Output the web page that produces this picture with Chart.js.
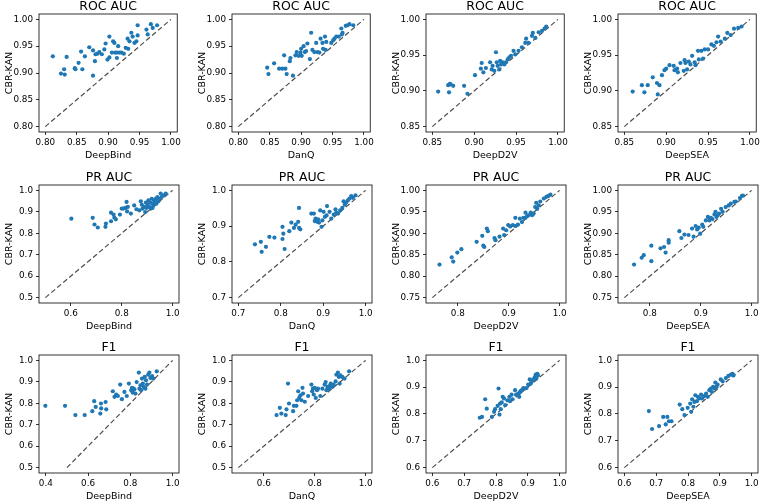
<!DOCTYPE html>
<html>
<head>
<meta charset="utf-8">
<script src="https://cdn.jsdelivr.net/npm/chart.js@4/dist/chart.umd.min.js"></script>
<style>
  html, body { margin: 0; padding: 0; background: #fff; overflow: hidden; }
  #wrap { position: relative; width: 763px; height: 502px; }
  canvas { position: absolute; }
</style>
</head>
<body>
<div id="wrap"></div>
<script>
// CBR-KAN (y) vs. baseline (x), one point per dataset

// ROC AUC
const rocDeepBindX = [0.812,0.825,0.830,0.831,0.834,0.847,0.848,0.853,0.857,0.859,0.863,0.870,0.876,0.876,0.879,0.880,0.883,0.886,0.890,0.894,0.896,0.899,0.902,0.902,0.906,0.908,0.910,0.911,0.914,0.914,0.916,0.918,0.921,0.925,0.928,0.931,0.932,0.934,0.937,0.939,0.942,0.945,0.947,0.947,0.961,0.963,0.968,0.971,0.978];
const rocDeepBindY = [0.931,0.899,0.907,0.897,0.930,0.909,0.907,0.919,0.940,0.907,0.931,0.948,0.942,0.895,0.922,0.935,0.936,0.939,0.935,0.944,0.955,0.925,0.968,0.929,0.938,0.959,0.956,0.938,0.938,0.928,0.950,0.938,0.938,0.936,0.947,0.964,0.945,0.959,0.975,0.968,0.956,0.959,0.970,0.989,0.981,0.972,0.991,0.984,0.989];

const rocDanQX = [0.846,0.848,0.857,0.865,0.870,0.875,0.873,0.877,0.882,0.883,0.887,0.891,0.893,0.896,0.899,0.900,0.901,0.904,0.906,0.908,0.910,0.914,0.916,0.918,0.921,0.924,0.926,0.929,0.931,0.934,0.935,0.938,0.939,0.940,0.948,0.951,0.953,0.956,0.960,0.964,0.965,0.966,0.971,0.974,0.977,0.983];
const rocDanQY = [0.910,0.898,0.918,0.908,0.908,0.908,0.933,0.898,0.922,0.928,0.895,0.933,0.939,0.932,0.938,0.945,0.932,0.950,0.939,0.941,0.955,0.926,0.975,0.943,0.939,0.956,0.939,0.938,0.964,0.956,0.945,0.968,0.943,0.958,0.956,0.961,0.964,0.968,0.968,0.983,0.972,0.975,0.988,0.989,0.991,0.989];

const rocDeepD2VX = [0.857,0.869,0.870,0.871,0.872,0.875,0.888,0.892,0.901,0.908,0.909,0.911,0.914,0.919,0.921,0.922,0.924,0.926,0.927,0.928,0.930,0.931,0.932,0.934,0.936,0.938,0.940,0.942,0.944,0.947,0.949,0.953,0.957,0.961,0.962,0.965,0.969,0.970,0.973,0.977,0.981,0.984,0.986];
const rocDeepD2VY = [0.899,0.908,0.898,0.910,0.909,0.907,0.907,0.896,0.922,0.931,0.939,0.926,0.932,0.940,0.930,0.935,0.928,0.954,0.940,0.935,0.930,0.942,0.937,0.940,0.937,0.940,0.944,0.947,0.949,0.956,0.951,0.956,0.961,0.967,0.973,0.967,0.977,0.981,0.974,0.982,0.984,0.987,0.990];

const rocDeepSEAX = [0.860,0.871,0.874,0.878,0.884,0.889,0.890,0.892,0.895,0.898,0.900,0.904,0.909,0.910,0.913,0.914,0.917,0.921,0.922,0.923,0.925,0.927,0.929,0.931,0.934,0.935,0.938,0.939,0.942,0.944,0.946,0.950,0.954,0.957,0.960,0.962,0.965,0.970,0.973,0.977,0.981,0.986,0.990];
const rocDeepSEAY = [0.899,0.908,0.898,0.908,0.919,0.911,0.895,0.908,0.922,0.929,0.931,0.936,0.935,0.929,0.931,0.926,0.939,0.928,0.943,0.939,0.930,0.941,0.937,0.949,0.940,0.936,0.956,0.944,0.956,0.945,0.958,0.958,0.965,0.963,0.968,0.976,0.969,0.973,0.981,0.978,0.987,0.988,0.990];

// PR AUC
const prDeepBindX = [0.602,0.686,0.693,0.706,0.736,0.738,0.758,0.758,0.768,0.771,0.777,0.793,0.800,0.806,0.814,0.819,0.821,0.824,0.836,0.849,0.858,0.869,0.875,0.879,0.882,0.888,0.892,0.895,0.897,0.901,0.905,0.908,0.912,0.914,0.918,0.921,0.921,0.925,0.927,0.931,0.934,0.936,0.940,0.944,0.947,0.953,0.957,0.966,0.973];
const prDeepBindY = [0.868,0.872,0.841,0.827,0.830,0.845,0.856,0.896,0.887,0.873,0.865,0.887,0.915,0.915,0.918,0.946,0.902,0.923,0.892,0.930,0.912,0.907,0.949,0.933,0.915,0.923,0.899,0.943,0.918,0.933,0.954,0.923,0.943,0.915,0.961,0.938,0.918,0.930,0.954,0.946,0.961,0.938,0.969,0.949,0.961,0.985,0.969,0.977,0.985];

const prDanQX = [0.739,0.753,0.755,0.765,0.773,0.785,0.804,0.806,0.804,0.809,0.820,0.825,0.831,0.835,0.841,0.843,0.843,0.846,0.872,0.878,0.880,0.882,0.886,0.888,0.890,0.893,0.896,0.898,0.901,0.904,0.908,0.909,0.915,0.919,0.925,0.929,0.931,0.935,0.940,0.945,0.948,0.951,0.954,0.958,0.962,0.966,0.970,0.976];
const prDanQY = [0.849,0.856,0.828,0.842,0.870,0.868,0.898,0.879,0.864,0.836,0.886,0.910,0.895,0.904,0.912,0.895,0.951,0.891,0.935,0.935,0.914,0.921,0.912,0.919,0.910,0.944,0.898,0.916,0.940,0.926,0.930,0.956,0.940,0.921,0.932,0.947,0.938,0.935,0.944,0.951,0.969,0.960,0.966,0.972,0.977,0.984,0.979,0.986];

const prDeepD2VX = [0.764,0.788,0.791,0.799,0.807,0.837,0.848,0.850,0.852,0.857,0.859,0.872,0.874,0.882,0.889,0.891,0.895,0.899,0.903,0.908,0.913,0.913,0.918,0.922,0.926,0.929,0.933,0.933,0.936,0.939,0.943,0.946,0.949,0.952,0.954,0.956,0.959,0.962,0.969,0.974,0.978,0.982];
const prDeepD2VY = [0.827,0.844,0.834,0.855,0.863,0.880,0.894,0.871,0.868,0.911,0.905,0.889,0.884,0.892,0.911,0.896,0.907,0.919,0.916,0.919,0.936,0.917,0.920,0.934,0.926,0.936,0.936,0.948,0.940,0.942,0.948,0.942,0.946,0.961,0.971,0.957,0.965,0.974,0.981,0.985,0.987,0.990];

const prDeepSEAX = [0.769,0.784,0.788,0.803,0.803,0.821,0.828,0.831,0.837,0.837,0.858,0.862,0.868,0.876,0.883,0.886,0.890,0.893,0.896,0.899,0.903,0.905,0.910,0.914,0.917,0.920,0.923,0.927,0.929,0.931,0.933,0.936,0.940,0.943,0.949,0.955,0.959,0.966,0.969,0.977,0.981,0.983];
const prDeepSEAY = [0.827,0.843,0.849,0.871,0.835,0.865,0.868,0.855,0.878,0.884,0.905,0.889,0.897,0.896,0.911,0.892,0.917,0.909,0.913,0.899,0.920,0.915,0.930,0.938,0.930,0.936,0.933,0.944,0.950,0.938,0.942,0.946,0.957,0.950,0.961,0.965,0.969,0.973,0.974,0.982,0.987,0.988];

// F1
const f1DeepBindX = [0.398,0.491,0.540,0.584,0.620,0.629,0.636,0.658,0.661,0.662,0.683,0.686,0.717,0.725,0.733,0.741,0.752,0.760,0.772,0.783,0.793,0.804,0.808,0.811,0.815,0.819,0.824,0.830,0.840,0.843,0.848,0.851,0.855,0.859,0.863,0.868,0.871,0.874,0.879,0.884,0.890,0.895,0.903,0.909,0.925];
const f1DeepBindY = [0.788,0.788,0.745,0.745,0.763,0.810,0.783,0.752,0.799,0.776,0.806,0.772,0.856,0.830,0.841,0.834,0.887,0.819,0.853,0.834,0.892,0.861,0.872,0.850,0.868,0.865,0.845,0.899,0.943,0.868,0.884,0.861,0.915,0.892,0.876,0.923,0.868,0.907,0.887,0.933,0.943,0.918,0.927,0.915,0.949];

const f1DanQX = [0.650,0.663,0.669,0.686,0.689,0.695,0.699,0.715,0.718,0.728,0.731,0.735,0.739,0.744,0.748,0.752,0.754,0.761,0.774,0.787,0.790,0.793,0.796,0.800,0.804,0.809,0.813,0.822,0.830,0.839,0.843,0.846,0.850,0.856,0.859,0.863,0.869,0.874,0.882,0.885,0.891,0.895,0.898,0.901,0.908,0.917,0.935];
const f1DanQY = [0.745,0.779,0.752,0.745,0.772,0.892,0.799,0.763,0.788,0.788,0.814,0.856,0.825,0.837,0.814,0.872,0.845,0.807,0.834,0.887,0.856,0.868,0.841,0.872,0.825,0.861,0.868,0.834,0.868,0.887,0.899,0.861,0.876,0.868,0.881,0.892,0.876,0.887,0.902,0.933,0.943,0.923,0.892,0.930,0.923,0.915,0.949];

const f1DeepD2VX = [0.749,0.756,0.766,0.771,0.787,0.794,0.797,0.805,0.808,0.811,0.813,0.815,0.818,0.821,0.825,0.829,0.836,0.842,0.844,0.849,0.852,0.860,0.863,0.870,0.873,0.875,0.877,0.881,0.886,0.891,0.896,0.901,0.906,0.909,0.912,0.917,0.922,0.925,0.927,0.930,0.932];
const f1DeepD2VY = [0.786,0.789,0.855,0.820,0.789,0.808,0.818,0.830,0.895,0.798,0.839,0.818,0.843,0.864,0.858,0.833,0.851,0.864,0.848,0.872,0.855,0.889,0.872,0.876,0.864,0.880,0.885,0.889,0.897,0.895,0.897,0.910,0.929,0.913,0.920,0.929,0.938,0.947,0.932,0.950,0.944];

const f1DeepSEAX = [0.677,0.687,0.709,0.722,0.730,0.735,0.740,0.748,0.774,0.782,0.789,0.799,0.807,0.810,0.813,0.817,0.820,0.823,0.828,0.831,0.836,0.841,0.844,0.851,0.857,0.862,0.867,0.872,0.875,0.879,0.883,0.886,0.890,0.893,0.903,0.909,0.919,0.927,0.935,0.940,0.943];
const f1DeepSEAY = [0.811,0.744,0.755,0.789,0.761,0.789,0.773,0.773,0.835,0.818,0.796,0.823,0.839,0.808,0.855,0.827,0.845,0.870,0.848,0.864,0.858,0.872,0.858,0.867,0.876,0.864,0.889,0.895,0.882,0.901,0.895,0.917,0.901,0.910,0.929,0.922,0.934,0.942,0.947,0.950,0.944];

// tick labels
const ticksRoc80 = [0.80, 0.85, 0.90, 0.95, 1.00];
const ticksRoc85 = [0.85, 0.90, 0.95, 1.00];
const ticksHalf = [0.5, 0.6, 0.7, 0.8, 0.9, 1.0];
const ticksEvenTenths = [0.4, 0.6, 0.8, 1.0];
const ticksPr70 = [0.7, 0.8, 0.9, 1.0];
const ticksPr75 = [0.75, 0.80, 0.85, 0.90, 0.95, 1.00];
const ticksPrX = [0.8, 0.9, 1.0];
const ticksF160 = [0.6, 0.7, 0.8, 0.9, 1.0];

const titles = ["ROC AUC", "PR AUC", "F1"];
const models = ["DeepBind", "DanQ", "DeepD2V", "DeepSEA"];
const yLabel = "CBR-KAN";

// one row per metric: [x, y, diagonal start, x ticks, y ticks, x decimals, y decimals]
const panels = [
  [rocDeepBindX, rocDeepBindY, 0.80, ticksRoc80, ticksRoc80, 2, 2],
  [rocDanQX, rocDanQY, 0.80, ticksRoc80, ticksRoc80, 2, 2],
  [rocDeepD2VX, rocDeepD2VY, 0.85, ticksRoc85, ticksRoc85, 2, 2],
  [rocDeepSEAX, rocDeepSEAY, 0.85, ticksRoc85, ticksRoc85, 2, 2],
  [prDeepBindX, prDeepBindY, 0.5, [0.6, 0.8, 1.0], ticksHalf, 1, 1],
  [prDanQX, prDanQY, 0.7, ticksPr70, ticksPr70, 1, 1],
  [prDeepD2VX, prDeepD2VY, 0.75, ticksPrX, ticksPr75, 1, 2],
  [prDeepSEAX, prDeepSEAY, 0.75, ticksPrX, ticksPr75, 1, 2],
  [f1DeepBindX, f1DeepBindY, 0.5, ticksEvenTenths, ticksHalf, 1, 1],
  [f1DanQX, f1DanQY, 0.5, [0.6, 0.8, 1.0], ticksHalf, 1, 1],
  [f1DeepD2VX, f1DeepD2VY, 0.6, ticksF160, ticksF160, 1, 1],
  [f1DeepSEAX, f1DeepSEAY, 0.6, ticksF160, ticksF160, 1, 1],
];

const colLeft = [0, 193, 387, 579];
const rowTop = [0, 171, 341];
const W = 183, H = 164;

Chart.defaults.font.family = "'DejaVu Sans', sans-serif";
Chart.defaults.color = "#000";

const frame = {
  id: "frame",
  afterDraw(chart) {
    const { ctx, chartArea: a } = chart;
    ctx.save();
    ctx.strokeStyle = "#000";
    ctx.lineWidth = 0.8;
    ctx.strokeRect(a.left, a.top, a.right - a.left, a.bottom - a.top);
    ctx.restore();
  }
};

// matplotlib-like limits: data + diagonal, padded by 5%
function limits(vals, lo) {
  const mn = Math.min(lo, ...vals), mx = Math.max(1, ...vals);
  const pad = (mx - mn) * 0.05;
  return [mn - pad, mx + pad];
}

const wrap = document.getElementById("wrap");

panels.forEach((p, i) => {
  const [xs, ys, lo, xt, yt, xd, yd] = p;
  const row = Math.floor(i / 4), col = i % 4;
  const cv = document.createElement("canvas");
  cv.width = W;
  cv.height = H;
  cv.style.left = colLeft[col] + "px";
  cv.style.top = rowTop[row] + "px";
  wrap.appendChild(cv);

  const [xMin, xMax] = limits(xs, lo);
  const [yMin, yMax] = limits(ys, lo);

  new Chart(cv, {
    type: "scatter",
    data: {
      datasets: [
        {
          data: xs.map((v, k) => ({ x: v, y: ys[k] })),
          backgroundColor: "#1f77b4",
          borderWidth: 0,
          pointRadius: 2.1,
        },
        {
          data: [{ x: lo, y: lo }, { x: 1, y: 1 }],
          showLine: true,
          borderColor: "#4d4d4d",
          borderWidth: 1.2,
          borderDash: [5, 2.8],
          pointRadius: 0,
        },
      ],
    },
    options: {
      responsive: false,
      animation: false,
      layout: { padding: { left: 0, right: 4, top: 0, bottom: 0 } },
      plugins: {
        legend: { display: false },
        tooltip: { enabled: false },
        title: {
          display: true,
          text: titles[row],
          fullSize: false,
          font: { size: 12.5, weight: "normal", lineHeight: 1 },
          padding: { top: 0, bottom: 1.5 },
        },
      },
      scales: {
        x: {
          type: "linear",
          min: xMin,
          max: xMax,
          afterBuildTicks: (s) => { s.ticks = xt.map((v) => ({ value: v })); },
          afterFit: (s) => { s.height = 32; },
          ticks: { callback: (v) => v.toFixed(xd), font: { size: 8.8 }, padding: 2, maxRotation: 0, autoSkip: false },
          grid: { drawOnChartArea: false, tickLength: 3, tickColor: "#000", tickWidth: 0.8 },
          border: { display: false },
          title: { display: true, text: models[col], font: { size: 9.5 }, padding: { top: 0, bottom: 3.2 } },
        },
        y: {
          type: "linear",
          min: yMin,
          max: yMax,
          afterBuildTicks: (s) => { s.ticks = yt.map((v) => ({ value: v })); },
          afterFit: (s) => { s.width = 39; },
          ticks: { callback: (v) => v.toFixed(yd), font: { size: 8.8 }, padding: 3, autoSkip: false },
          grid: { drawOnChartArea: false, tickLength: 3, tickColor: "#000", tickWidth: 0.8 },
          border: { display: false },
          title: { display: true, text: yLabel, font: { size: 9.5 }, padding: { top: 4.3, bottom: 0 } },
        },
      },
    },
    plugins: [frame],
  });
});
</script>
</body>
</html>
